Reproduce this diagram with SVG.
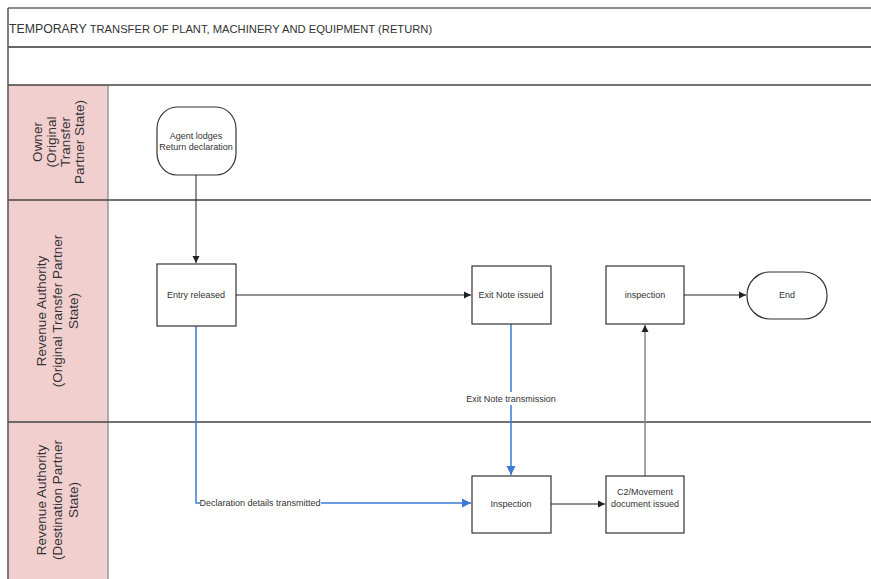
<svg xmlns="http://www.w3.org/2000/svg" width="871" height="579" viewBox="0 0 871 579">
<style>
.lbl{font-family:"Liberation Sans",Arial,sans-serif;font-size:9px;fill:#333;text-anchor:middle}
.lane{font-family:"Liberation Sans",Arial,sans-serif;font-size:13.5px;fill:#333;text-anchor:middle}
.box{fill:#fff;stroke:#333;stroke-width:1.2}
.blk{fill:none;stroke:#222;stroke-width:1}
.blu{fill:none;stroke:#3a7bd5;stroke-width:1.5}
.gry{fill:none;stroke:#888;stroke-width:1.5}
</style>
<defs>
<marker id="ab" markerWidth="8" markerHeight="8" refX="7" refY="4" orient="auto" markerUnits="userSpaceOnUse"><path d="M0,0.5 L7,4 L0,7.5 Z" fill="#222"/></marker>
<marker id="au" markerWidth="10" markerHeight="10" refX="9" refY="5" orient="auto" markerUnits="userSpaceOnUse"><path d="M0,0.5 L9,5 L0,9.5 Z" fill="#3a7bd5"/></marker>
</defs>
<rect width="871" height="579" fill="#fff"/>
<g id="frame">
<rect x="8" y="85" width="100" height="494" fill="#f2cfcf"/>
<line x1="108" y1="85" x2="108" y2="579" stroke="#999" stroke-width="1.5"/>
<line x1="8" y1="8" x2="871" y2="8" stroke="#666" stroke-width="1.5"/>
<line x1="8" y1="47" x2="871" y2="47" stroke="#333" stroke-width="1.5"/>
<line x1="8" y1="85" x2="871" y2="85" stroke="#444" stroke-width="1.5"/>
<line x1="8" y1="200" x2="871" y2="200" stroke="#444" stroke-width="1.5"/>
<line x1="8" y1="422" x2="871" y2="422" stroke="#444" stroke-width="1.5"/>
<line x1="8" y1="8" x2="8" y2="579" stroke="#555" stroke-width="1.5"/>
<text x="9" y="33" font-family="'Liberation Sans',Arial,sans-serif" fill="#333"><tspan font-size="12.3">TEMPORARY</tspan><tspan font-size="11.2" dx="3">TRANSFER OF PLANT, MACHINERY AND EQUIPMENT (RETURN)</tspan></text>
</g>
<g id="lane1">
<text class="lane" transform="translate(0,142) rotate(-90)"><tspan x="0" y="42">Owner</tspan><tspan x="0" y="56">(Original</tspan><tspan x="0" y="70">Transfer</tspan><tspan x="0" y="84">Partner State)</tspan></text>
</g>
<g id="lane2">
<text class="lane" transform="translate(0,311) rotate(-90)"><tspan x="0" y="46">Revenue Authority</tspan><tspan x="0" y="62">(Original Transfer Partner</tspan><tspan x="0" y="78">State)</tspan></text>
</g>
<g id="lane3">
<text class="lane" transform="translate(0,500) rotate(-90)"><tspan x="0" y="46">Revenue Authority</tspan><tspan x="0" y="62">(Destination Partner</tspan><tspan x="0" y="78">State)</tspan></text>
</g>
<g id="connectors">
<line class="blk" x1="196" y1="175" x2="196" y2="263" marker-end="url(#ab)"/>
<line class="blk" x1="236" y1="295" x2="471" y2="295" marker-end="url(#ab)"/>
<path class="blu" d="M196,326 V503 H200"/>
<line class="blu" x1="321" y1="503" x2="471" y2="503" marker-end="url(#au)"/>
<text class="lbl" x="260" y="506">Declaration details transmitted</text>
<line class="blu" x1="511" y1="324" x2="511" y2="475" marker-end="url(#au)"/>
<rect x="466" y="392" width="90" height="13" fill="#fff"/>
<text class="lbl" x="511" y="402">Exit Note transmission</text>
<line class="blk" x1="551" y1="504" x2="605" y2="504" marker-end="url(#ab)"/>
<line class="gry" x1="645" y1="476" x2="645" y2="325" marker-end="url(#ab)"/>
<line class="blk" x1="684" y1="295" x2="746" y2="295" marker-end="url(#ab)"/>
</g>
<g id="agent">
<rect class="box" x="157" y="107" width="79" height="68" rx="20" ry="22"/>
<text class="lbl" x="196" y="139">Agent lodges</text>
<text class="lbl" x="196" y="150">Return declaration</text>
</g>
<g id="entry">
<rect class="box" x="157" y="264" width="79" height="62"/>
<text class="lbl" x="196" y="298">Entry released</text>
</g>
<g id="exitnote">
<rect class="box" x="472" y="266" width="79" height="58"/>
<text class="lbl" x="511" y="298">Exit Note issued</text>
</g>
<g id="inspection1">
<rect class="box" x="606" y="266" width="78" height="58"/>
<text class="lbl" x="645" y="298">inspection</text>
</g>
<g id="end">
<rect class="box" x="747" y="272" width="80" height="47" rx="23" ry="23"/>
<text class="lbl" x="787" y="298">End</text>
</g>
<g id="inspection2">
<rect class="box" x="472" y="476" width="79" height="57"/>
<text class="lbl" x="511" y="507">Inspection</text>
</g>
<g id="c2">
<rect class="box" x="606" y="476" width="78" height="57"/>
<text class="lbl" x="645" y="495">C2/Movement</text>
<text class="lbl" x="645" y="507">document issued</text>
</g>
</svg>
